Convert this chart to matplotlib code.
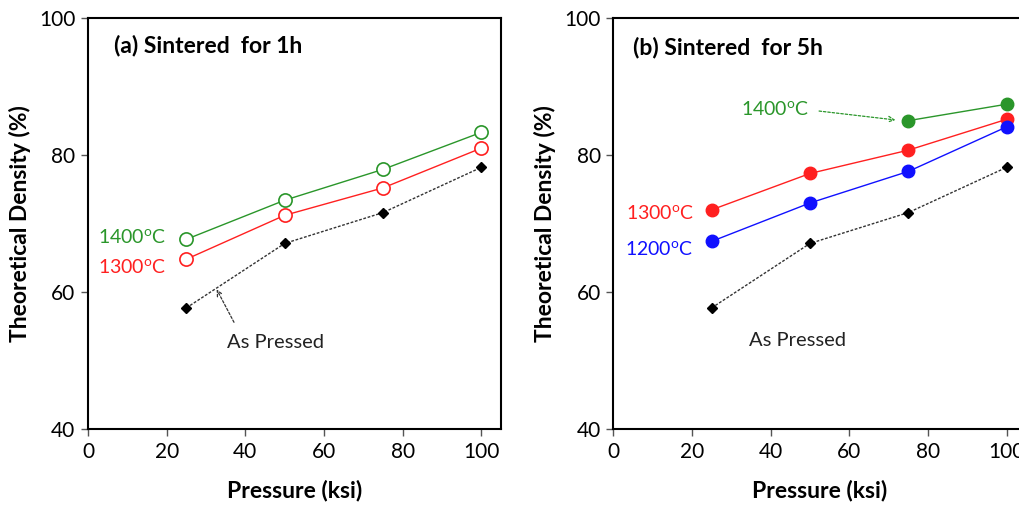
import matplotlib
matplotlib.use("Agg")
import matplotlib.pyplot as plt

plt.rcParams['font.family'] = ['Lato', 'DejaVu Sans']
plt.rcParams['mathtext.fontset'] = 'custom'
plt.rcParams['mathtext.rm'] = 'Lato'

# data
pressure = [25, 50, 75, 100]
as_pressed = [57.7, 67.1, 71.6, 78.2]

# (a) sintered 1h
a_1400 = [67.7, 73.4, 77.9, 83.3]
a_1300 = [64.8, 71.2, 75.2, 81.0]

# (b) sintered 5h
b_1400_x = [75, 100]
b_1400 = [85.0, 87.4]
b_1300 = [72.0, 77.3, 80.7, 85.2]
b_1200 = [67.4, 73.0, 77.6, 84.1]

green = '#2a962a'
red = '#ff2020'
blue = '#1010ff'
deg = r'$^{\rm o}$C'

fig = plt.figure(figsize=(10.2, 5.08), dpi=100)
ax1 = fig.add_axes([0.0863, 0.155, 0.405, 0.810])
ax2 = fig.add_axes([0.6013, 0.155, 0.405, 0.810])

for ax in (ax1, ax2):
    ax.set_xlim(0, 105)
    ax.set_ylim(40, 100)
    ax.set_xticks([0, 20, 40, 60, 80, 100])
    ax.set_yticks([40, 60, 80, 100])
    ax.tick_params(direction='out', length=5, width=1, color='#555555',
                   labelsize=15, pad=4)
    for s in ax.spines.values():
        s.set_linewidth(1.5)
    ax.set_xlabel('Pressure (ksi)', fontsize=16.5, fontweight='bold', labelpad=13)
    ax.set_ylabel('Theoretical Density (%)', fontsize=16.5, fontweight='bold', labelpad=6)
    ax.plot(pressure, as_pressed, color='#333333', linestyle=(0, (2, 1.2)), linewidth=1,
            marker='D', markersize=5.5, markerfacecolor='black', markeredgecolor='black')
    ax.text(34.6 if ax is ax2 else 35.3, 53.0 if ax is ax2 else 52.7, 'As Pressed',
            fontsize=14.5, va='center', ha='left', color='#222222')

# panel (a)
ax1.plot(pressure, a_1400, color=green, linewidth=1, marker='o', markersize=9.5,
         markerfacecolor='white', markeredgecolor=green, markeredgewidth=1.2)
ax1.plot(pressure, a_1300, color=red, linewidth=1, marker='o', markersize=9.5,
         markerfacecolor='white', markeredgecolor=red, markeredgewidth=1.2)
ax1.text(20.0, 68.0, '1400' + deg, color=green, fontsize=14, ha='right', va='center')
ax1.text(20.0, 63.5, '1300' + deg, color=red, fontsize=14, ha='right', va='center')
ax1.text(6.6, 95.9, '(a) Sintered  for 1h', fontsize=16.5, fontweight='bold', va='center')
ax1.annotate('', xy=(32.7, 60.4), xytext=(37.1, 55.6),
             arrowprops=dict(arrowstyle='->', color='#333333', linestyle=(0, (2, 1.5)),
                             linewidth=0.9, shrinkA=0, shrinkB=0))

# panel (b)
ax2.plot(b_1400_x, b_1400, color=green, linewidth=1, marker='o', markersize=9,
         markerfacecolor=green, markeredgecolor=green)
ax2.plot(pressure, b_1300, color=red, linewidth=1, marker='o', markersize=9,
         markerfacecolor=red, markeredgecolor=red)
ax2.plot(pressure, b_1200, color=blue, linewidth=1, marker='o', markersize=9,
         markerfacecolor=blue, markeredgecolor=blue)
ax2.text(49.8, 86.6, '1400' + deg, color=green, fontsize=14, ha='right', va='center')
ax2.text(20.5, 71.4, '1300' + deg, color=red, fontsize=14, ha='right', va='center')
ax2.text(20.2, 66.2, '1200' + deg, color=blue, fontsize=14, ha='right', va='center')
ax2.text(5.0, 95.7, '(b) Sintered  for 5h', fontsize=16.5, fontweight='bold', va='center')
ax2.annotate('', xy=(71.7, 85.1), xytext=(52.3, 86.4),
             arrowprops=dict(arrowstyle='->', color=green, linestyle=(0, (2, 1.5)),
                             linewidth=0.9, shrinkA=0, shrinkB=0))

fig.savefig('out.png', dpi=100)
